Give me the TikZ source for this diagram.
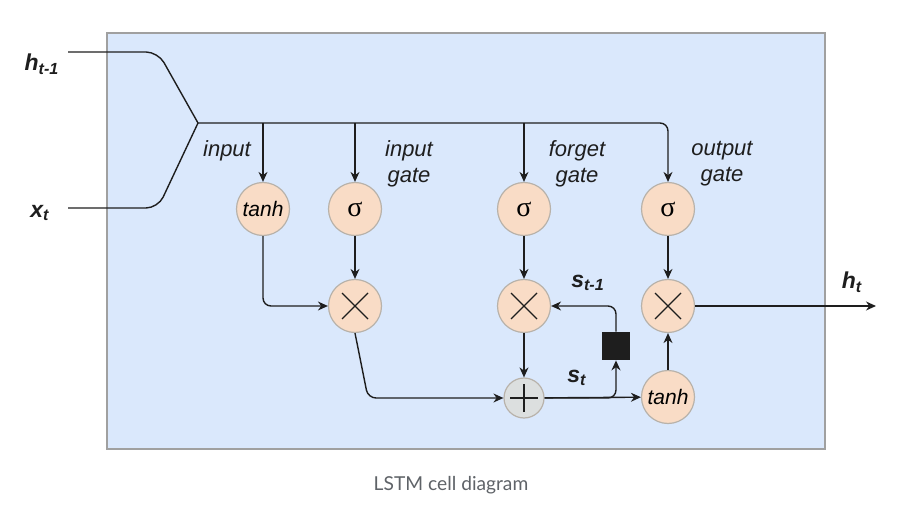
\documentclass[tikz,border=0pt]{standalone}
\usepackage{fontspec}
\setmainfont{Liberation Sans}
\newfontfamily\capfont{Lato}
\newfontfamily\greekfont{Liberation Serif}
\usetikzlibrary{arrows.meta}
\definecolor{cellblue}{HTML}{DAE8FC}
\definecolor{cellrim}{HTML}{A0A0A0}
\definecolor{peach}{HTML}{F9DCC6}
\definecolor{plusgray}{HTML}{DCDFDF}
\definecolor{ringgray}{HTML}{B8B2AA}
\definecolor{ink}{HTML}{1E1E1E}
\definecolor{captiongray}{HTML}{5F6368}

\begin{document}
\begin{tikzpicture}[x=0.5pt, y=-0.5pt,
    wire/.style={draw=ink, line width=0.7pt, rounded corners=4pt},
    flow/.style={wire, -{Stealth[length=5pt, width=4.5pt]}},
    op/.style={circle, draw=ringgray, fill=peach, line width=0.6pt, minimum size=26.5pt, inner sep=0pt, font=\itshape\fontsize{10.5}{12}\selectfont},
    sig/.style={op, font=\greekfont\fontsize{14}{15}\selectfont},
    mult/.style={op, path picture={
      \draw[ink, line width=0.6pt] ([shift={(-6.5pt,-6.5pt)}]path picture bounding box.center) -- ([shift={(6.5pt,6.5pt)}]path picture bounding box.center)
        ([shift={(-6.5pt,6.5pt)}]path picture bounding box.center) -- ([shift={(6.5pt,-6.5pt)}]path picture bounding box.center);}},
    plus/.style={op, fill=plusgray, minimum size=20pt, path picture={
      \draw[ink, line width=0.6pt] ([xshift=-7pt]path picture bounding box.center) -- ([xshift=7pt]path picture bounding box.center)
        ([yshift=-7pt]path picture bounding box.center) -- ([yshift=7pt]path picture bounding box.center);}},
    gatelabel/.style={font=\itshape\fontsize{11}{13}\selectfont, align=center, text=ink},
    varlabel/.style={font=\bfseries\itshape\fontsize{11.5}{13}\selectfont, text=ink}
  ]
  \useasboundingbox (0,0) rectangle (916,508);
  \draw[draw=cellrim, fill=cellblue, line width=0.6pt] (107,33) rectangle (825,449);

  \node[varlabel] (hlab) at (42,64) {h\textsubscript{t-1}};
  \node[varlabel] (xlab) at (40,213) {x\textsubscript{t}};
  \coordinate (hin) at (68,52);
  \coordinate (xin) at (68,208);
  \coordinate (j) at (198,123);

  \node[op] (t1) at (263,209) {tanh};
  \node[sig] (s1) at (355,209) {σ};
  \node[sig] (s2) at (524,209) {σ};
  \node[sig] (s3) at (668,209) {σ};
  \node[mult] (m1) at (355,306) {};
  \node[mult] (m2) at (524,306) {};
  \node[mult] (m3) at (668,306) {};
  \node[plus] (p) at (524,398) {};
  \node[op] (t2) at (668,397) {tanh};
  \node[fill=ink, minimum size=14pt, inner sep=0pt] (sq) at (616,346) {};

  \node[gatelabel] (inlab) at (227,151) {input};
  \node[gatelabel] (iglab) at (409,164) {input\\gate};
  \node[gatelabel] (fglab) at (577,164) {forget\\gate};
  \node[gatelabel] (oglab) at (722,164) {output\\gate};
  \node[varlabel] (sprev) at (588,283) {s\textsubscript{t-1}};
  \node[varlabel] (scur) at (577,378) {s\textsubscript{t}};
  \node[varlabel] (hlabout) at (852,282) {h\textsubscript{t}};

  \draw[wire, rounded corners=6pt] (hin) -- (158,52) -- (j);
  \draw[wire, rounded corners=6pt] (xin) -- (158,208) -- (j);
  \draw[flow] (j) -- (s3 |- j) -- (s3);
  \draw[flow] (t1 |- j) -- (t1);
  \draw[flow] (s1 |- j) -- (s1);
  \draw[flow] (s2 |- j) -- (s2);

  \draw[flow] (t1) |- (m1);
  \draw[flow] (s1) -- (m1);
  \draw[flow] (s2) -- (m2);
  \draw[flow] (s3) -- (m3);

  \coordinate (mbend) at (368,398);
  \draw[flow] (m1.south) -- (mbend) -- (p);
  \draw[flow] (m2) -- (p);
  \draw[flow] (p) -- (t2);
  \draw[flow] (p.east) -| (sq.south);
  \draw[flow] (sq.north) |- (m2.east);
  \draw[flow] (t2) -- (m3);
  \coordinate (hout) at (876,306);
  \draw[flow] (m3) -- (hout);

  \node[font=\capfont\fontsize{9.6}{11}\selectfont, text=captiongray] (caption) at (451,485) {LSTM cell diagram};
\end{tikzpicture}
\end{document}
